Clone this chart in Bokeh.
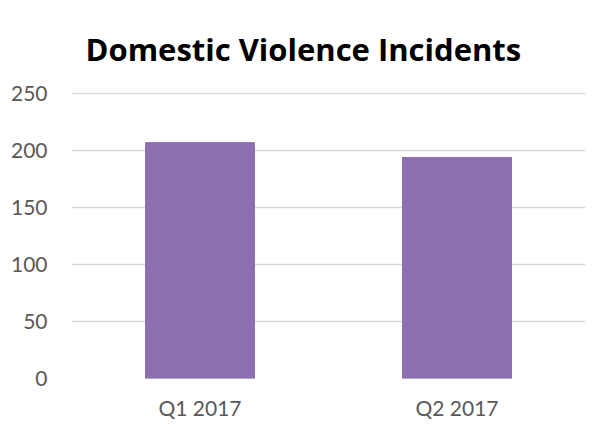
from bokeh.plotting import figure
from bokeh.models import ColumnDataSource, Title
from bokeh.embed import file_html
from bokeh.resources import INLINE

categories = ["Q1 2017", "Q2 2017"]
incidents = [207, 194]
y_ticks = [0, 50, 100, 150, 200, 250]
title_text = "Domestic Violence Incidents"

source = ColumnDataSource(data=dict(cat=categories, val=incidents))

p = figure(x_range=categories, y_range=(0, 251), width=598, height=424,
           output_backend="svg", toolbar_location=None, title=None)
p.min_border_left = 71
p.min_border_right = 13
p.min_border_top = 92
p.min_border_bottom = 46
p.outline_line_color = None
p.x_range.range_padding = 0

p.vbar(x="cat", top="val", width=0.424, source=source,
       fill_color="#8C6FAF", line_color="#8C6FAF")

title = Title(text=title_text, align="left", offset=14,
              text_font="Open Sans", text_font_size="31px", text_font_style="bold",
              text_color="#000000", standoff=45)
p.add_layout(title, "above")

p.yaxis.ticker = y_ticks
p.ygrid.grid_line_color = "#D9D9D9"
p.ygrid.grid_line_width = 1.5
p.xgrid.grid_line_color = None

for ax in (p.xaxis, p.yaxis):
    ax.axis_line_color = None
    ax.major_tick_line_color = None
    ax.minor_tick_line_color = None
    ax.major_label_text_font = "Lato"
    ax.major_label_text_font_size = "21px"
    ax.major_label_text_color = "#595959"
p.yaxis.major_label_standoff = 18
p.xaxis.major_label_standoff = 10

open("out.html", "w").write(file_html(p, INLINE))
